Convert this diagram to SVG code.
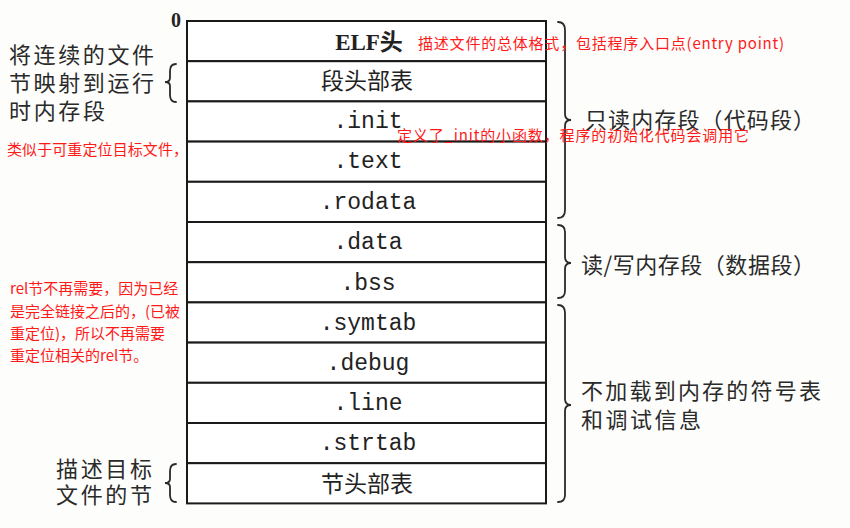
<svg xmlns="http://www.w3.org/2000/svg" width="850" height="528" viewBox="0 0 850 528">
<style>
.row{fill:#fff;stroke:#1a1a1a;stroke-width:2}
.mono{font-family:"Liberation Mono","DejaVu Sans Mono",monospace;font-size:23px;fill:#222;text-anchor:middle;dominant-baseline:central}
.cjk{font-family:"Liberation Serif","Noto Sans CJK SC",serif;font-size:23px;fill:#222;text-anchor:middle;dominant-baseline:central}
.lbl{font-family:"Noto Sans CJK SC","Noto Sans",sans-serif;font-size:22px;fill:#2a2a2a;dominant-baseline:central}
.red{font-family:"Noto Sans CJK SC","Noto Sans",sans-serif;font-size:15px;fill:#ff1a1a;dominant-baseline:central}
.brace{fill:none;stroke:#2a2a2a;stroke-width:1.8;stroke-linecap:round}
</style>
<rect width="850" height="528" fill="#fdfdfb"/>
<text x="171" y="20" font-family="Liberation Serif,serif" font-weight="bold" font-size="20" fill="#222" dominant-baseline="central">0</text>
<g id="elf-header"><rect class="row" x="187" y="21" width="359" height="40.2"/><text class="cjk" x="369" y="42" font-weight="bold">ELF头</text></g>
<g id="segment-header-table"><rect class="row" x="187" y="61.2" width="359" height="40.2"/><text class="cjk" x="367" y="81.5">段头部表</text></g>
<g id="init"><rect class="row" x="187" y="101.4" width="359" height="40.2"/><text class="mono" x="368" y="122">.init</text></g>
<g id="text"><rect class="row" x="187" y="141.6" width="359" height="40.2"/><text class="mono" x="368" y="162">.text</text></g>
<g id="rodata"><rect class="row" x="187" y="181.8" width="359" height="40.2"/><text class="mono" x="368" y="203">.rodata</text></g>
<g id="data"><rect class="row" x="187" y="222" width="359" height="40.2"/><text class="mono" x="368" y="243">.data</text></g>
<g id="bss"><rect class="row" x="187" y="262.2" width="359" height="40.2"/><text class="mono" x="368" y="284">.bss</text></g>
<g id="symtab"><rect class="row" x="187" y="302.4" width="359" height="40.2"/><text class="mono" x="368" y="324">.symtab</text></g>
<g id="debug"><rect class="row" x="187" y="342.6" width="359" height="40.2"/><text class="mono" x="368" y="364">.debug</text></g>
<g id="line"><rect class="row" x="187" y="382.8" width="359" height="40.2"/><text class="mono" x="368" y="404">.line</text></g>
<g id="strtab"><rect class="row" x="187" y="423" width="359" height="40.2"/><text class="mono" x="368" y="444">.strtab</text></g>
<g id="section-header-table"><rect class="row" x="187" y="463.2" width="359" height="40.2"/><text class="cjk" x="367" y="484">节头部表</text></g>
<g id="braces">
<path class="brace" d="M558 22 Q565 22 565 30 L565 114 Q565 120 571 120 Q565 120 565 126 L565 210 Q565 218 558 218"/>
<path class="brace" d="M558 225 Q565 225 565 232 L565 257 Q565 263 571 263 Q565 263 565 269 L565 291 Q565 298 558 298"/>
<path class="brace" d="M558 305 Q565 305 565 313 L565 399 Q565 405 571 405 Q565 405 565 411 L565 495 Q565 502 558 502"/>
<path class="brace" d="M176 64 Q170 64 170 71 L170 78 Q170 82 165 82 Q170 82 170 86 L170 95 Q170 102 176 102"/>
<path class="brace" d="M176 464 Q170 464 170 471 L170 479 Q170 483 165 483 Q170 483 170 487 L170 495 Q170 502 176 502"/>
</g>
<g id="left-labels">
<text class="lbl" x="9" y="53" textLength="145">将连续的文件</text>
<text class="lbl" x="9" y="81" textLength="145">节映射到运行</text>
<text class="lbl" x="9" y="109" textLength="96">时内存段</text>
<text class="lbl" x="56" y="467" textLength="96">描述目标</text>
<text class="lbl" x="56" y="493" textLength="96">文件的节</text>
</g>
<g id="right-labels">
<text class="lbl" x="585" y="118" textLength="230">只读内存段（代码段）</text>
<text class="lbl" x="581" y="263" textLength="234">读/写内存段（数据段）</text>
<text class="lbl" x="581" y="389" textLength="240">不加载到内存的符号表</text>
<text class="lbl" x="581" y="418" textLength="120">和调试信息</text>
</g>
<g id="notes">
<text class="red" x="418" y="42" textLength="366">描述文件的总体格式，包括程序入口点(entry point)</text>
<text class="red" x="397" y="134" textLength="352">定义了_init的小函数，程序的初始化代码会调用它</text>
<text class="red" x="7" y="148" textLength="181">类似于可重定位目标文件，</text>
<text class="red" x="10" y="287">rel节不再需要，因为已经</text>
<text class="red" x="10" y="310">是完全链接之后的，(已被</text>
<text class="red" x="10" y="332">重定位)，所以不再需要</text>
<text class="red" x="10" y="354">重定位相关的rel节。</text>
</g>
</svg>
